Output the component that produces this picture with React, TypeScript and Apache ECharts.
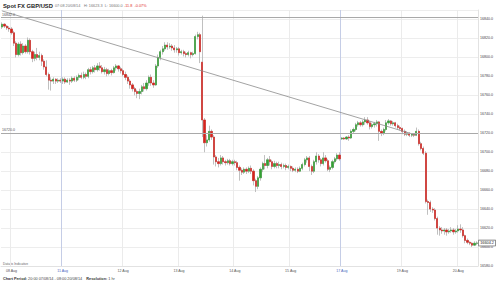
import React, { useEffect, useRef } from "react";
import * as echarts from "echarts";

const FONT = "Liberation Sans, Arial, sans-serif";

// trading sessions (hourly candles): start day (Aug), start hour, number of candles
const sessions = [
  { startDay: 7, startHour: 20, hours: 26 },
  { startDay: 10, startHour: 22, hours: 120 },
  { startDay: 17, startHour: 22, hours: 59 },
];

const dayTicks = [4, 26, 52, 76, 100, 124, 146, 172, 196];
const dayLabels = ["08 Aug", "11 Aug", "12 Aug", "13 Aug", "14 Aug", "15 Aug", "17 Aug", "19 Aug", "20 Aug"];
const weekStarts = [26, 146];

const openP = [
  16832, 16835, 16833, 16831, 16830, 16826, 16815, 16803, 16814, 16805, 16812, 16806, 16818, 16806, 16799, 16803, 16800, 16802, 16796, 16790, 16782, 16776, 16775, 16777, 16775, 16776,
  16775, 16777, 16774, 16776, 16775, 16778, 16776, 16779, 16781, 16779, 16782,
  16780, 16787, 16785, 16789, 16787, 16791,
  16789, 16785, 16787, 16783, 16786,
  16784, 16789,
  16791, 16788, 16786, 16782,
  16779, 16775, 16771, 16767, 16764, 16762,
  16764, 16769, 16767, 16773,
  16779, 16773, 16771, 16791, 16800, 16806,
  16809, 16813, 16811,
  16812, 16810, 16808, 16809, 16805,
  16806, 16804, 16803, 16805, 16803,
  16804, 16822, 16824, 16795, 16734, 16710, 16713, 16722, 16716, 16695, 16690, 16688,
  16694, 16690, 16689, 16691, 16688, 16690, 16689,
  16684, 16681, 16679, 16682, 16680,
  16683, 16680, 16670, 16664, 16673,
  16682, 16688, 16686, 16692, 16690, 16685,
  16688, 16686, 16687, 16685, 16686,
  16684, 16685, 16683, 16681, 16682, 16680,
  16683, 16687, 16692, 16694, 16685,
  16680, 16690, 16696, 16692, 16688, 16694, 16691, 16682, 16684, 16690, 16693, 16697,
  16714, 16715, 16714, 16716, 16715, 16722, 16724, 16729, 16731, 16729, 16732, 16734, 16731, 16727, 16729, 16730, 16732, 16722, 16720, 16724,
  16731, 16733, 16730, 16731, 16728, 16726, 16725, 16722, 16719, 16720, 16718, 16719, 16718, 16722, 16709, 16704, 16699, 16648, 16647, 16640,
  16639, 16630, 16620, 16618, 16617, 16618, 16616, 16617, 16618, 16616, 16617, 16619, 16618, 16612, 16607, 16605, 16604, 16602, 16604,
];

const closeP = [
  16835, 16833, 16831, 16830, 16826, 16815, 16803, 16814, 16805, 16812, 16806, 16818, 16806, 16799, 16803, 16800, 16802, 16796, 16790, 16782, 16776, 16775, 16777, 16775, 16776, 16775,
  16777, 16774, 16776, 16775, 16778, 16776, 16779, 16781, 16779, 16782, 16780,
  16787, 16785, 16789, 16787, 16791, 16789,
  16785, 16787, 16783, 16786, 16784,
  16789, 16791,
  16788, 16786, 16782, 16779,
  16775, 16771, 16767, 16764, 16762, 16764,
  16769, 16767, 16773, 16779,
  16773, 16771, 16791, 16800, 16806, 16809,
  16813, 16811, 16812,
  16810, 16808, 16809, 16805, 16806,
  16804, 16803, 16805, 16803, 16804,
  16822, 16824, 16806, 16734, 16710, 16713, 16722, 16716, 16695, 16690, 16688, 16694,
  16690, 16689, 16691, 16688, 16690, 16689, 16684,
  16681, 16679, 16682, 16680, 16683,
  16680, 16670, 16664, 16673, 16682,
  16688, 16686, 16692, 16690, 16685, 16688,
  16686, 16687, 16685, 16686, 16684,
  16685, 16683, 16681, 16682, 16680, 16683,
  16687, 16692, 16694, 16685, 16680,
  16690, 16696, 16692, 16688, 16694, 16691, 16682, 16684, 16690, 16693, 16697, 16693,
  16715, 16714, 16716, 16715, 16722, 16724, 16729, 16731, 16729, 16732, 16734, 16731, 16727, 16729, 16730, 16732, 16722, 16720, 16724, 16731,
  16733, 16730, 16731, 16728, 16726, 16725, 16722, 16719, 16720, 16718, 16719, 16718, 16722, 16709, 16704, 16699, 16648, 16647, 16640, 16639,
  16630, 16620, 16618, 16617, 16618, 16616, 16617, 16618, 16616, 16617, 16619, 16618, 16612, 16607, 16605, 16604, 16602, 16604, 16604.2,
];

const lowP = [
  16830, 16831, 16829, 16827, 16824, 16812, 16800, 16801, 16802, 16803, 16804, 16804, 16803, 16795, 16796, 16797, 16797, 16791, 16787, 16780, 16766, 16765, 16772, 16772, 16773, 16773,
  16772, 16772, 16773, 16771, 16773, 16774, 16774, 16776, 16777, 16777, 16777,
  16778, 16782, 16783, 16784, 16785, 16786,
  16783, 16782, 16780, 16781, 16781,
  16783, 16786,
  16785, 16783, 16780, 16776,
  16772, 16767, 16764, 16760, 16757, 16756,
  16761, 16764, 16765, 16770,
  16770, 16768, 16770, 16789, 16797, 16803,
  16807, 16808, 16809,
  16807, 16805, 16805, 16802, 16803,
  16801, 16800, 16801, 16799, 16801,
  16803, 16819, 16794, 16716, 16700, 16706, 16711, 16713, 16687, 16685, 16684, 16686,
  16687, 16686, 16687, 16686, 16686, 16686, 16681,
  16670, 16676, 16677, 16677, 16678,
  16677, 16665, 16658, 16661, 16670,
  16679, 16682, 16683, 16686, 16682, 16683,
  16683, 16683, 16682, 16683, 16681,
  16682, 16680, 16679, 16679, 16678, 16679,
  16681, 16685, 16689, 16680, 16676,
  16678, 16687, 16689, 16685, 16686, 16689, 16680, 16679, 16682, 16688, 16691, 16691,
  16713, 16713, 16713, 16712, 16714, 16720, 16722, 16727, 16727, 16727, 16729, 16729, 16724, 16725, 16726, 16727, 16712, 16717, 16718, 16722,
  16729, 16728, 16728, 16726, 16724, 16723, 16719, 16717, 16717, 16716, 16716, 16716, 16717, 16707, 16702, 16697, 16646, 16634, 16637, 16636,
  16628, 16613, 16612, 16614, 16613, 16612, 16614, 16615, 16613, 16614, 16615, 16615, 16610, 16604, 16603, 16602, 16600, 16601, 16602,
];

const highP = [
  16837, 16836, 16834, 16833, 16832, 16828, 16817, 16816, 16817, 16815, 16814, 16821, 16820, 16808, 16806, 16810, 16806, 16804, 16798, 16797, 16784, 16779, 16779, 16778, 16778, 16778,
  16779, 16779, 16778, 16778, 16780, 16780, 16781, 16783, 16784, 16785, 16784,
  16789, 16790, 16791, 16792, 16794, 16795,
  16792, 16790, 16789, 16788, 16788,
  16791, 16793,
  16792, 16790, 16788, 16785,
  16781, 16777, 16773, 16769, 16766, 16767,
  16771, 16773, 16776, 16781,
  16782, 16776, 16793, 16803, 16808, 16812,
  16816, 16816, 16815,
  16814, 16813, 16811, 16811, 16808,
  16808, 16806, 16807, 16806, 16806,
  16824, 16827, 16826, 16844, 16736, 16718, 16728, 16724, 16718, 16697, 16694, 16697,
  16696, 16692, 16693, 16693, 16692, 16692, 16691,
  16686, 16683, 16684, 16684, 16685,
  16686, 16682, 16672, 16675, 16684,
  16690, 16697, 16694, 16696, 16692, 16691,
  16690, 16690, 16689, 16688, 16688,
  16687, 16686, 16685, 16684, 16684, 16685,
  16689, 16694, 16696, 16696, 16687,
  16692, 16700, 16698, 16694, 16700, 16697, 16693, 16686, 16692, 16695, 16699, 16700,
  16716, 16716, 16717, 16718, 16724, 16726, 16731, 16733, 16733, 16734, 16737, 16737, 16733, 16731, 16732, 16734, 16733, 16724, 16726, 16734,
  16735, 16734, 16733, 16732, 16730, 16728, 16726, 16724, 16722, 16721, 16720, 16720, 16726, 16724, 16711, 16706, 16701, 16650, 16649, 16642,
  16641, 16632, 16622, 16621, 16620, 16620, 16619, 16621, 16620, 16619, 16623, 16624, 16621, 16613, 16609, 16606, 16605, 16606, 16606,
];

const trendLine = [
  [0, 16849],
  [178, 16718],
];
const levelLines = [16842, 16720];
const lastPrice = 16604.2;

const yTicks = { min: 16580, max: 16850, step: 20 };

const headerTitle = "Spot FX GBP/USD";
const headerTime = "07:08 20/08/14";
const headerHL = "H: 16623.3  L: 16600.0";
const headerChange = "-11.8  -0.07%";
const footerPeriod = "20:00 07/08/14 - 08:00 20/08/14";
const footerResolution = "1 hr";

function buildCategories(): string[] {
  const out: string[] = [];
  for (const s of sessions) {
    for (let k = 0; k < s.hours; k++) {
      const t = s.startHour + k;
      const d = s.startDay + Math.floor(t / 24);
      const h = t % 24;
      out.push(`${String(d).padStart(2, "0")}/08 ${String(h).padStart(2, "0")}:00`);
    }
  }
  return out;
}

export default function App() {
  const ref = useRef<HTMLDivElement>(null);

  useEffect(() => {
    if (!ref.current) return;
    const chart = echarts.init(ref.current, undefined, { renderer: "svg" });
    const categories = buildCategories();

    const wickData = openP.map((o, i) => [o, closeP[i], lowP[i], highP[i]]);
    const bodyData = openP.map((o, i) => [o, closeP[i], Math.min(o, closeP[i]), Math.max(o, closeP[i])]);

    const GRAY_LINE = "#ebebeb";
    const BLUE_LINE = "#c5cde6";
    const splitColors = dayTicks.map((t) => (weekStarts.includes(t) ? BLUE_LINE : GRAY_LINE));
    splitColors.push(GRAY_LINE);

    const lvlLabel = {
      show: true,
      position: "insideStartTop",
      fontSize: 3.6,
      color: "#555",
      distance: 1,
      fontFamily: FONT,
      formatter: (p: any) => Number(p.value).toFixed(1),
    };

    const option: any = {
      animation: false,
      backgroundColor: "#ffffff",
      textStyle: { fontFamily: FONT },
      grid: { left: 1, right: 22, top: 10, bottom: 18, outerBoundsMode: "none", containLabel: false },
      xAxis: {
        type: "category",
        data: categories,
        boundaryGap: true,
        axisLine: { show: true, lineStyle: { color: "#e2e2e2", width: 1 } },
        axisTick: { show: false },
        axisLabel: {
          interval: (i: number) => dayTicks.includes(i),
          formatter: (_v: string, i: number) => {
            const k = dayTicks.indexOf(i);
            if (k < 0) return "";
            return weekStarts.includes(i) ? `{b|${dayLabels[k]}}` : dayLabels[k];
          },
          fontSize: 3.6,
          color: "#555",
          margin: 3,
          fontFamily: FONT,
          rich: { b: { color: "#4a68c0", fontSize: 3.6, fontFamily: FONT } },
        },
        splitLine: {
          show: true,
          interval: (i: number) => dayTicks.includes(i),
          lineStyle: { color: splitColors, width: 1 },
        },
      },
      yAxis: {
        type: "value",
        position: "right",
        min: yTicks.min,
        max: yTicks.max,
        interval: yTicks.step,
        axisLine: { show: true, lineStyle: { color: "#e2e2e2" } },
        axisTick: { show: false },
        axisLabel: {
          formatter: (v: number) => (Math.round(v) % yTicks.step === 0 ? v.toFixed(1) : ""),
          fontSize: 3.6,
          color: "#444",
          margin: 2,
          fontFamily: FONT,
        },
        splitLine: { show: true, lineStyle: { color: "#ededed", width: 1 } },
      },
      series: [
        {
          name: "wick",
          type: "candlestick",
          data: wickData,
          barWidth: 1.7,
          silent: true,
          itemStyle: {
            color: "#b0b0b0",
            color0: "#b0b0b0",
            borderColor: "#b0b0b0",
            borderColor0: "#b0b0b0",
            borderWidth: 0.8,
          },
        },
        {
          name: "body",
          type: "candlestick",
          data: bodyData,
          barWidth: 1.7,
          silent: true,
          itemStyle: {
            color: "#33a033",
            color0: "#d8231d",
            borderColor: "#33a033",
            borderColor0: "#d8231d",
            borderWidth: 0.5,
          },
          markLine: {
            silent: true,
            symbol: ["none", "none"],
            precision: 1,
            data: [
              [
                {
                  coord: trendLine[0],
                  lineStyle: { color: "#8c8c8c", width: 0.8, type: "solid" },
                  label: { show: false },
                },
                { coord: trendLine[1] },
              ],
              ...levelLines.map((v) => ({
                yAxis: v,
                lineStyle: { color: "#a9a9a9", width: 1, type: "solid" },
                label: lvlLabel,
              })),
            ],
          },
        },
        {
          name: "last",
          type: "line",
          data: [],
          silent: true,
          markLine: {
            silent: true,
            symbol: ["none", "none"],
            data: [
              {
                yAxis: lastPrice,
                lineStyle: { color: "rgba(0,0,0,0)", width: 1 },
                label: {
                  show: true,
                  position: "end",
                  distance: 1,
                  fontSize: 3.8,
                  color: "#222",
                  fontFamily: FONT,
                  backgroundColor: "#ffffff",
                  borderColor: "#555",
                  borderWidth: 0.6,
                  padding: [0.8, 1.2, 0.4, 1.2],
                  formatter: (p: any) => Number(p.value).toFixed(1),
                },
              },
            ],
          },
        },
      ],
      graphic: [
        {
          type: "text",
          x: 3,
          y: 6,
          style: { text: headerTitle, fontSize: 5.8, fontWeight: "bold", fill: "#222", fontFamily: FONT, verticalAlign: "middle" },
        },
        {
          type: "text",
          x: 55,
          y: 5.5,
          style: { text: headerTime, fontSize: 3.8, fill: "#777", fontFamily: FONT, verticalAlign: "middle" },
        },
        {
          type: "text",
          x: 84,
          y: 5.5,
          style: { text: headerHL, fontSize: 3.8, fill: "#777", fontFamily: FONT, verticalAlign: "middle" },
        },
        {
          type: "text",
          x: 124,
          y: 5.5,
          style: { text: headerChange, fontSize: 3.8, fill: "#e0302a", fontFamily: FONT, verticalAlign: "middle" },
        },
        {
          type: "text",
          x: 3,
          y: 264,
          style: { text: "Data is Indicative", fontSize: 3.3, fill: "#666", fontFamily: FONT, verticalAlign: "middle" },
        },
        {
          type: "text",
          x: 3,
          y: 278.5,
          style: {
            text: `{b|Chart Period:} ${footerPeriod}    {b|Resolution:} ${footerResolution}`,
            fontSize: 3.8,
            fill: "#444",
            fontFamily: FONT,
            verticalAlign: "middle",
            rich: { b: { fontWeight: "bold", fontSize: 3.8, fill: "#333", fontFamily: FONT } },
          },
        },
      ],
    };

    chart.setOption(option);
    return () => chart.dispose();
  }, []);

  return (
    <div
      ref={ref}
      style={{ position: "absolute", left: 0, top: 0, width: 500, height: 284, background: "#fff" }}
    />
  );
}
